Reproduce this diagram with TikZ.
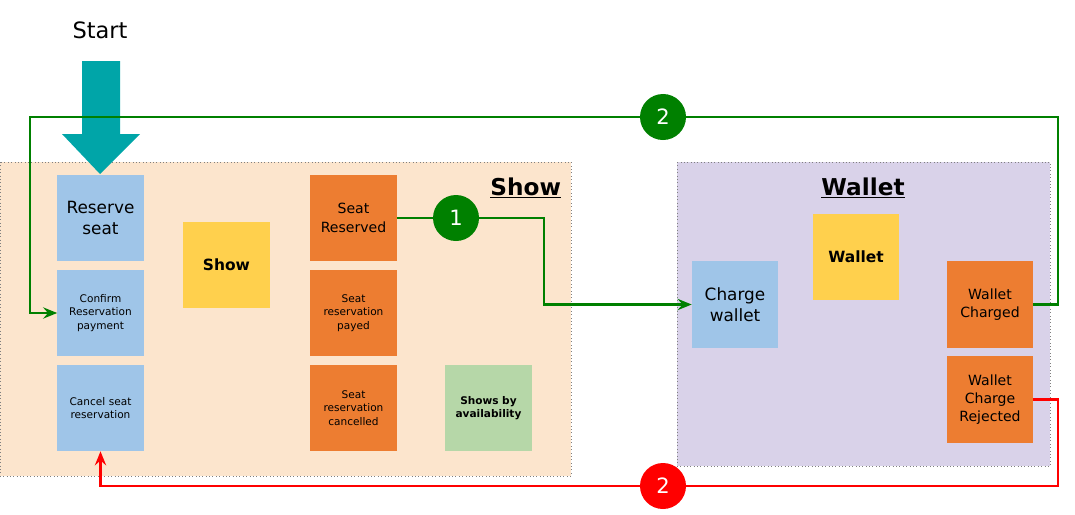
\documentclass[tikz,border=0pt]{standalone}
\usepackage{fontspec}
\setmainfont{DejaVu Sans}
\usetikzlibrary{arrows.meta}
\definecolor{showbg}{HTML}{FCE5CD}
\definecolor{walletbg}{HTML}{D9D2E9}
\definecolor{cmdblue}{HTML}{9FC5E8}
\definecolor{evtorange}{HTML}{ED7D31}
\definecolor{aggyellow}{HTML}{FFD04D}
\definecolor{readgreen}{HTML}{B6D7A8}
\definecolor{startteal}{HTML}{00A5A8}
\definecolor{okgreen}{HTML}{008000}
\definecolor{failred}{HTML}{FF0000}
\begin{document}
\begin{tikzpicture}[x=0.025cm, y=-0.025cm,
% common options for the sticky notes:
note/.style = {minimum width=2.15cm, minimum height=2.15cm, align=center,
            inner sep=1pt, text width=2.05cm},
command/.style = {note, fill=cmdblue},
event/.style = {note, fill=evtorange},
aggregate/.style = {note, fill=aggyellow, font=\fontsize{11}{13}\selectfont\bfseries},
readmodel/.style = {note, fill=readgreen, font=\fontsize{7.5}{9.5}\selectfont\bfseries},
small/.style = {font=\fontsize{7.5}{9.5}\selectfont},
big/.style = {font=\fontsize{12}{15}\selectfont},
mid/.style = {font=\fontsize{10}{13}\selectfont},
% common options for the flows:
link/.style = {line width=2pt},
flow/.style = {link, -{Stealth[length=10pt,width=8pt,inset=3.5pt]}},
badge/.style = {circle, minimum size=1.15cm, inner sep=0, text=white,
            font=\fontsize{15}{15}\selectfont}]
\useasboundingbox (0,0) rectangle (1075,514);
% contexts
\draw[fill=showbg, draw=gray, dotted] (0,162) rectangle (571,476);
\draw[fill=walletbg, draw=gray, dotted] (677,162) rectangle (1050,466);
\node[font=\fontsize{16.5}{16.5}\selectfont\bfseries, anchor=east] (ShowT) at (566,188) {\underline{Show}};
\node[font=\fontsize{16.5}{16.5}\selectfont\bfseries] (WalletT) at (863,188) {\underline{Wallet}};
% start
\node[font=\fontsize{16}{16}\selectfont] (Start) at (100,30) {Start};
\fill[startteal] (82,61) -- (120,61) -- (120,134) -- (140,134) -- (100,174)
  -- (62,134) -- (82,134) -- cycle;
% show context
\node[command, big] (C1) at (100.5,218) {Reserve\\seat};
\node[command, small] (C2) at (100.5,313) {Confirm\\Reservation\\payment};
\node[command, small] (C3) at (100.5,408) {Cancel seat\\reservation};
\node[aggregate] (A1) at (226.5,265) {Show};
\node[event, mid] (E1) at (353.5,218) {Seat\\Reserved};
\node[event, small] (E2) at (353.5,313) {Seat\\reservation\\payed};
\node[event, small] (E3) at (353.5,408) {Seat\\reservation\\cancelled};
\node[readmodel] (R1) at (488.5,408) {Shows by\\availability};
% wallet context
\node[command, big] (C4) at (735,304.5) {Charge\\wallet};
\node[aggregate] (A2) at (856,257) {Wallet};
\node[event, mid] (E4) at (990,304.5) {Wallet\\Charged};
\node[event, mid] (E5) at (990,399.5) {Wallet\\Charge\\Rejected};
% flows
\node[badge, fill=okgreen] (B1) at (456,218) {1};
\node[badge, fill=okgreen] (B2) at (663,117) {2};
\node[badge, fill=failred] (B3) at (663,486) {2};
\draw[link, okgreen] (E1.east) -- (B1);
\draw[flow, okgreen] (B1) -| (544,304.5) -- (C4.west);
\draw[link, okgreen] (E4.east) -| (1058,117) -- (B2);
\draw[flow, okgreen] (B2) -| (30,313) -- (C2.west);
\draw[link, failred] (E5.east) -| (1058,486) -- (B3);
\draw[flow, failred] (B3) -| (C3.south);
\end{tikzpicture}
\end{document}
